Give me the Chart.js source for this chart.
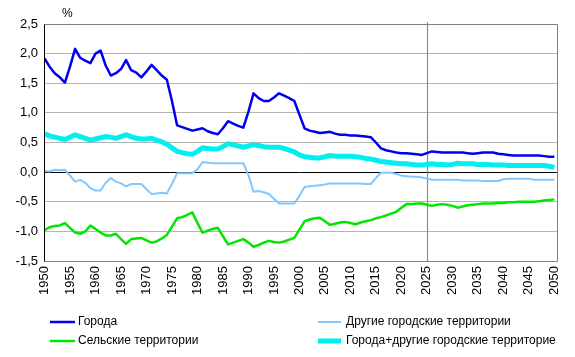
<!DOCTYPE html>
<html>
<head>
<meta charset="utf-8">
<script src="https://cdn.jsdelivr.net/npm/chart.js@4/dist/chart.umd.min.js"></script>
<style>
html,body{margin:0;padding:0;background:#fff;}
#wrap{position:relative;width:575px;height:357px;}
</style>
</head>
<body>
<div id="wrap"><canvas id="c" width="575" height="357"></canvas></div>
<script>
const years = [1950,1951,1952,1953,1954,1955,1956,1957,1958,1959,
1960,1961,1962,1963,1964,1965,1966,1967,1968,1969,
1970,1971,1972,1973,1974,1975,1976,1977,1978,1979,
1980,1981,1982,1983,1984,1985,1986,1987,1988,1989,
1990,1991,1992,1993,1994,1995,1996,1997,1998,1999,
2000,2001,2002,2003,2004,2005,2006,2007,2008,2009,
2010,2011,2012,2013,2014,2015,2016,2017,2018,2019,
2020,2021,2022,2023,2024,2025,2026,2027,2028,2029,
2030,2031,2032,2033,2034,2035,2036,2037,2038,2039,
2040,2041,2042,2043,2044,2045,2046,2047,2048,2049,2050];

const xTickLabels = [1950,1955,1960,1965,1970,1975,1980,1985,1990,1995,2000,2005,2010,2015,2020,2025,2030,2035,2040,2045,2050];
const yTickValues = [2.5,2.0,1.5,1.0,0.5,0.0,-0.5,-1.0,-1.5];
const markerYear = 2025;

const cities = [1.92,1.78,1.67,1.60,1.51,1.78,2.08,1.93,1.88,1.84,
2.00,2.05,1.80,1.63,1.67,1.74,1.89,1.72,1.68,1.60,
1.70,1.81,1.72,1.63,1.56,1.20,0.79,0.76,0.73,0.70,
0.72,0.74,0.69,0.66,0.64,0.74,0.86,0.82,0.78,0.75,
1.02,1.33,1.25,1.20,1.20,1.26,1.33,1.29,1.25,1.20,
0.97,0.74,0.70,0.68,0.66,0.67,0.68,0.65,0.63,0.63,
0.62,0.62,0.61,0.60,0.59,0.50,0.40,0.37,0.35,0.33,
0.32,0.32,0.31,0.30,0.29,0.32,0.35,0.34,0.33,0.33,
0.33,0.33,0.33,0.32,0.31,0.32,0.33,0.33,0.33,0.31,
0.30,0.29,0.28,0.28,0.28,0.28,0.28,0.28,0.27,0.26,0.26];

const otherUrban = [0.02,0.01,0.04,0.03,0.04,-0.06,-0.16,-0.13,-0.18,-0.27,
-0.31,-0.31,-0.18,-0.10,-0.16,-0.19,-0.24,-0.20,-0.20,-0.20,
-0.29,-0.37,-0.36,-0.35,-0.36,-0.20,-0.02,-0.02,-0.02,-0.02,
0.05,0.17,0.16,0.15,0.15,0.15,0.15,0.15,0.15,0.15,
-0.05,-0.33,-0.32,-0.34,-0.37,-0.45,-0.53,-0.53,-0.53,-0.53,
-0.40,-0.25,-0.24,-0.23,-0.22,-0.21,-0.19,-0.19,-0.19,-0.19,
-0.19,-0.19,-0.19,-0.20,-0.20,-0.10,-0.01,-0.01,-0.01,-0.03,
-0.06,-0.07,-0.08,-0.08,-0.09,-0.11,-0.13,-0.13,-0.13,-0.13,
-0.13,-0.13,-0.14,-0.14,-0.14,-0.14,-0.15,-0.15,-0.15,-0.15,
-0.12,-0.11,-0.11,-0.11,-0.11,-0.11,-0.13,-0.13,-0.13,-0.13,-0.13];

const rural = [-0.98,-0.93,-0.91,-0.90,-0.86,-0.94,-1.02,-1.04,-1.00,-0.90,
-0.96,-1.02,-1.07,-1.07,-1.04,-1.13,-1.21,-1.13,-1.12,-1.11,
-1.15,-1.19,-1.17,-1.12,-1.06,-0.92,-0.78,-0.76,-0.72,-0.68,
-0.86,-1.02,-0.99,-0.96,-0.94,-1.08,-1.22,-1.19,-1.16,-1.13,
-1.19,-1.26,-1.23,-1.19,-1.16,-1.18,-1.19,-1.17,-1.14,-1.11,
-0.97,-0.83,-0.80,-0.78,-0.77,-0.83,-0.89,-0.87,-0.85,-0.84,
-0.86,-0.88,-0.85,-0.83,-0.81,-0.78,-0.76,-0.73,-0.70,-0.67,
-0.60,-0.54,-0.54,-0.53,-0.53,-0.55,-0.57,-0.55,-0.54,-0.55,
-0.57,-0.60,-0.58,-0.56,-0.55,-0.54,-0.53,-0.53,-0.53,-0.52,
-0.52,-0.51,-0.51,-0.50,-0.50,-0.50,-0.50,-0.49,-0.48,-0.47,-0.46];

const citiesPlusOther = [0.65,0.61,0.59,0.57,0.55,0.59,0.63,0.60,0.57,0.54,
0.56,0.58,0.60,0.59,0.57,0.60,0.63,0.60,0.57,0.56,
0.56,0.57,0.54,0.51,0.47,0.41,0.35,0.33,0.31,0.30,
0.35,0.41,0.40,0.39,0.39,0.43,0.48,0.46,0.44,0.42,
0.44,0.46,0.45,0.43,0.42,0.42,0.42,0.40,0.37,0.34,
0.29,0.26,0.25,0.24,0.24,0.26,0.28,0.27,0.27,0.27,
0.27,0.26,0.25,0.23,0.22,0.20,0.18,0.17,0.16,0.15,
0.14,0.14,0.13,0.12,0.12,0.13,0.14,0.13,0.13,0.12,
0.13,0.15,0.14,0.14,0.14,0.13,0.13,0.13,0.12,0.12,
0.12,0.11,0.11,0.11,0.11,0.11,0.11,0.11,0.11,0.10,0.08];

const seriesNames = ['Города','Другие городские территории','Сельские территории','Города+другие городские территорие'];
const unitLabel = '%';

const FONT = '"Liberation Sans", Arial, sans-serif';
const pts = arr => years.map((y,i)=>({x:y, y:arr[i]}));

const frame = {
  id:'frame',
  beforeDatasetsDraw(chart){
    const {ctx, chartArea:a, scales} = chart;
    ctx.save();
    // 2025 marker line
    const xm = Math.round(scales.x.getPixelForValue(markerYear)) + 0.5;
    ctx.strokeStyle = '#8c8c8c';
    ctx.lineWidth = 1.2;
    ctx.beginPath(); ctx.moveTo(xm, a.top - 2); ctx.lineTo(xm, a.bottom); ctx.stroke();
    ctx.restore();
  },
  afterDatasetsDraw(chart){
    const {ctx, chartArea:a} = chart;
    ctx.save();
    ctx.strokeStyle = '#808080';
    ctx.lineWidth = 1;
    ctx.beginPath();
    ctx.moveTo(Math.round(a.left)+0.5, Math.round(a.top)+0.5);
    ctx.lineTo(Math.round(a.right)+0.5, Math.round(a.top)+0.5);
    ctx.lineTo(Math.round(a.right)+0.5, Math.round(a.bottom)+0.5);
    ctx.lineTo(Math.round(a.left)+0.5, Math.round(a.bottom)+0.5);
    ctx.stroke();
    ctx.strokeStyle = '#000';
    ctx.beginPath();
    ctx.moveTo(Math.round(a.left)+0.5, Math.round(a.top)+0.5);
    ctx.lineTo(Math.round(a.left)+0.5, Math.round(a.bottom)+0.5);
    ctx.stroke();
    // unit label
    ctx.fillStyle = '#000';
    ctx.font = '12px ' + FONT;
    ctx.textBaseline = 'middle';
    ctx.textAlign = 'left';
    ctx.fillText(unitLabel, 62, 14);
    // legend
    const ds = chart.data.datasets;
    const slots = [
      {lx:50, lw:25, tx:78, y:322},
      {lx:318, lw:23, tx:346, y:322},
      {lx:50, lw:25, tx:78, y:341},
      {lx:318, lw:23, tx:346, y:341}
    ];
    ds.forEach((d,i)=>{
      const s = slots[i];
      ctx.strokeStyle = d.borderColor;
      ctx.lineWidth = d.borderWidth;
      ctx.beginPath(); ctx.moveTo(s.lx, s.y); ctx.lineTo(s.lx + s.lw, s.y); ctx.stroke();
      ctx.fillStyle = '#000';
      ctx.font = '12px ' + FONT;
      ctx.fillText(d.label, s.tx, s.y);
    });
    ctx.restore();
  }
};

new Chart(document.getElementById('c'), {
  type:'line',
  data:{
    datasets:[
      {label:seriesNames[0], data:pts(cities), borderColor:'#0000f0', borderWidth:2.5, order:1},
      {label:seriesNames[1], data:pts(otherUrban), borderColor:'#80c8ff', borderWidth:2, order:3},
      {label:seriesNames[2], data:pts(rural), borderColor:'#00e600', borderWidth:2.5, order:2},
      {label:seriesNames[3], data:pts(citiesPlusOther), borderColor:'#00f0f0', borderWidth:5, order:4}
    ]
  },
  options:{
    responsive:false,
    animation:false,
    events:[],
    layout:{padding:{left:0, right:12, top:24, bottom:0}},
    elements:{point:{radius:0}, line:{tension:0, borderJoinStyle:'round', borderCapStyle:'butt'}},
    plugins:{legend:{display:false}, tooltip:{enabled:false}},
    scales:{
      x:{
        type:'linear', min:1949.9, max:2050.5,
        afterBuildTicks(scale){ scale.ticks = xTickLabels.map(v=>({value:v})); },
        afterFit(scale){ scale.height = 96; },
        grid:{display:false, drawTicks:false},
        border:{display:false},
        ticks:{
          autoSkip:false, maxRotation:90, minRotation:90, padding:5,
          color:'#000', font:{family:FONT, size:13},
          callback:(v)=>String(v)
        }
      },
      y:{
        min:-1.5, max:2.5,
        afterBuildTicks(scale){ scale.ticks = yTickValues.map(v=>({value:v})); },
        afterFit(scale){ scale.width = 44; },
        grid:{
          color:(c)=> c.tick && c.tick.value === 0 ? '#000' : '#b4b4b4',
          lineWidth:1, drawTicks:false
        },
        border:{display:false},
        ticks:{
          padding:6, color:'#000', font:{family:FONT, size:13},
          callback:(v)=> Number(v).toFixed(1).replace('.', ',')
        }
      }
    }
  },
  plugins:[frame]
});
</script>
</body>
</html>
